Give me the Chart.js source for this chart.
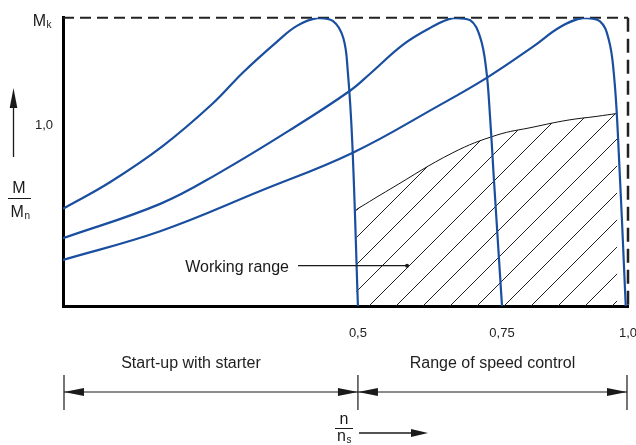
<!DOCTYPE html>
<html>
<head>
<meta charset="utf-8">
<script src="https://cdn.jsdelivr.net/npm/chart.js@4/dist/chart.umd.min.js"></script>
<style>
  html, body { margin: 0; padding: 0; background: #fff; }
  #wrap { width: 636px; height: 445px; }
</style>
</head>
<body>
<div id="wrap"><canvas id="chart" width="636" height="445"></canvas></div>
<script>
// x in n/ns (schematic axis), y in M/Mn
const xTickValues = [0.522, 0.777, 1.0];
const xTickLabels = ["0,5", "0,75", "1,0"];
const yTickValues = [1.0];
const yTickLabels = ["1,0"];
const yMax = 1.6; // Mk level

const curve1 = [
  [0, 0.54], [0.083, 0.687], [0.177, 0.889], [0.265, 1.124], [0.319, 1.298],
  [0.379, 1.468], [0.414, 1.555], [0.45, 1.598], [0.478, 1.582], [0.496, 1.489],
  [0.504, 1.304], [0.512, 0.906], [0.522, 0]
];
const curve2 = [
  [0, 0.376], [0.172, 0.567], [0.278, 0.742], [0.407, 0.987], [0.508, 1.195],
  [0.543, 1.288], [0.602, 1.451], [0.65, 1.544], [0.69, 1.598], [0.72, 1.588],
  [0.738, 1.495], [0.749, 1.315], [0.756, 1.042], [0.763, 0.687], [0.777, 0]
];
const curve3 = [
  [0, 0.256], [0.172, 0.415], [0.349, 0.638], [0.513, 0.851], [0.662, 1.107],
  [0.752, 1.271], [0.832, 1.44], [0.88, 1.549], [0.92, 1.598], [0.95, 1.582],
  [0.966, 1.478], [0.975, 1.288], [0.982, 0.96], [0.996, 0]
];
const workingLimit = [
  [0.519, 0.535], [0.579, 0.649], [0.69, 0.851], [0.768, 0.949],
  [0.832, 0.993], [0.892, 1.031], [0.945, 1.053], [0.981, 1.069]
];
const workingLabelAt = [0.609, 0.224];

const BLUE = "#1a4fa0";
const INK = "#1a1a1a";
const FONT = "'Liberation Sans', Arial, sans-serif";

const toXY = (arr) => arr.map((p) => ({ x: p[0], y: p[1] }));

// diagonal hatch
const makeHatch = () => {
  const s = 27;
  const c = document.createElement("canvas");
  c.width = s;
  c.height = s;
  const g = c.getContext("2d");
  g.strokeStyle = "#222";
  g.lineWidth = 1;
  g.beginPath();
  g.moveTo(-2, s + 2); g.lineTo(s + 2, -2);
  g.moveTo(-2, 2); g.lineTo(2, -2);
  g.moveTo(s - 2, s + 2); g.lineTo(s + 2, s - 2);
  g.stroke();
  return g.createPattern(c, "repeat");
};

const arrowHead = (ctx, x, y, dx, dy, len, hw) => {
  const px = -dy, py = dx;
  ctx.beginPath();
  ctx.moveTo(x, y);
  ctx.lineTo(x - dx * len + px * hw, y - dy * len + py * hw);
  ctx.lineTo(x - dx * len - px * hw, y - dy * len - py * hw);
  ctx.closePath();
  ctx.fill();
};

const subText = (ctx, main, sub, x, y, size, align) => {
  ctx.font = size + "px " + FONT;
  const w1 = ctx.measureText(main).width;
  ctx.font = Math.round(size * 0.62) + "px " + FONT;
  const w2 = ctx.measureText(sub).width;
  let x0 = x;
  if (align === "center") x0 = x - (w1 + w2) / 2;
  if (align === "right") x0 = x - (w1 + w2);
  ctx.textAlign = "left";
  ctx.textBaseline = "alphabetic";
  ctx.font = size + "px " + FONT;
  ctx.fillText(main, x0, y);
  ctx.font = Math.round(size * 0.62) + "px " + FONT;
  ctx.fillText(sub, x0 + w1 + 0.5, y + 2);
};

// dashed top and right edges of the frame
const dashedFrame = {
  id: "dashedFrame",
  beforeDatasetsDraw(chart) {
    const { ctx, chartArea: a } = chart;
    ctx.save();
    ctx.strokeStyle = "#222";
    ctx.lineWidth = 2;
    ctx.setLineDash([11, 6]);
    ctx.beginPath();
    ctx.moveTo(a.left, a.top);
    ctx.lineTo(a.right, a.top);
    ctx.stroke();
    ctx.lineWidth = 2.5;
    ctx.setLineDash([14, 7]);
    ctx.beginPath();
    ctx.moveTo(a.right, a.top);
    ctx.lineTo(a.right, a.bottom);
    ctx.stroke();
    ctx.restore();
  },
};

const annotations = {
  id: "annotations",
  afterDraw(chart) {
    const { ctx, scales } = chart;
    const xs = scales.x, ys = scales.y;
    ctx.save();
    ctx.fillStyle = INK;
    ctx.strokeStyle = INK;

    // Mk at top of y axis
    subText(ctx, "M", "k", 51, ys.getPixelForValue(yMax) + 8, 16, "right");

    // y arrow
    ctx.lineWidth = 1.3;
    ctx.beginPath();
    ctx.moveTo(13.5, 157);
    ctx.lineTo(13.5, 100);
    ctx.stroke();
    arrowHead(ctx, 13.5, 88, 0, -1, 20, 3.8);

    // M / Mn
    ctx.font = "16px " + FONT;
    ctx.textAlign = "center";
    ctx.fillText("M", 19, 193);
    ctx.lineWidth = 1;
    ctx.beginPath();
    ctx.moveTo(8, 198.5);
    ctx.lineTo(31, 198.5);
    ctx.stroke();
    subText(ctx, "M", "n", 20, 217, 16, "center");

    // working range label + leader
    const lx = xs.getPixelForValue(workingLabelAt[0]);
    const ly = ys.getPixelForValue(workingLabelAt[1]);
    ctx.font = "16px " + FONT;
    ctx.textAlign = "right";
    ctx.textBaseline = "middle";
    ctx.fillText("Working range", 289, ly + 2);
    ctx.lineWidth = 1.3;
    ctx.beginPath();
    ctx.moveTo(298, ly);
    ctx.lineTo(lx, ly);
    ctx.stroke();
    ctx.beginPath();
    ctx.arc(lx, ly, 2, 0, Math.PI * 2);
    ctx.fill();

    // dimension lines under the chart
    const x0 = xs.getPixelForValue(0) + 1;
    const x1 = xs.getPixelForValue(xTickValues[0]);
    const x2 = xs.getPixelForValue(xTickValues[2]) - 1;
    const dy = 392;
    ctx.lineWidth = 1.2;
    ctx.beginPath();
    [x0, x1, x2].forEach((x) => { ctx.moveTo(x, 375); ctx.lineTo(x, 410); });
    ctx.moveTo(x0, dy); ctx.lineTo(x2, dy);
    ctx.stroke();
    arrowHead(ctx, x0, dy, -1, 0, 20, 4);
    arrowHead(ctx, x1, dy, 1, 0, 20, 4);
    arrowHead(ctx, x1, dy, -1, 0, 20, 4);
    arrowHead(ctx, x2, dy, 1, 0, 20, 4);

    ctx.font = "16px " + FONT;
    ctx.textAlign = "center";
    ctx.textBaseline = "middle";
    ctx.fillStyle = "#222";
    ctx.fillText("Start-up with starter", (x0 + x1) / 2 - 20, 364);
    ctx.fillText("Range of speed control", (x1 + x2) / 2, 364);

    // n / ns with arrow
    ctx.fillStyle = INK;
    ctx.textBaseline = "alphabetic";
    ctx.fillText("n", 344, 424);
    ctx.lineWidth = 1;
    ctx.beginPath();
    ctx.moveTo(335, 428.5);
    ctx.lineTo(353, 428.5);
    ctx.stroke();
    subText(ctx, "n", "s", 344, 441, 16, "center");
    ctx.lineWidth = 1.3;
    ctx.beginPath();
    ctx.moveTo(359, 433);
    ctx.lineTo(415, 433);
    ctx.stroke();
    arrowHead(ctx, 428, 433, 1, 0, 17, 4);

    ctx.restore();
  },
};

const blueLine = (data) => ({
  data: toXY(data),
  borderColor: BLUE,
  borderWidth: 2.2,
  pointRadius: 0,
  tension: 0.4,
  fill: false,
  order: 1,
});

new Chart(document.getElementById("chart"), {
  type: "line",
  data: {
    datasets: [
      blueLine(curve1),
      blueLine(curve2),
      blueLine(curve3),
      {
        data: toXY(workingLimit),
        borderColor: "#111",
        borderWidth: 1,
        pointRadius: 0,
        tension: 0.4,
        fill: "origin",
        backgroundColor: makeHatch(),
        order: 2,
      },
    ],
  },
  options: {
    responsive: false,
    animation: false,
    layout: { padding: { left: 0, top: 13, right: 8, bottom: 99 } },
    plugins: {
      legend: { display: false },
      tooltip: { enabled: false },
    },
    scales: {
      x: {
        type: "linear",
        position: "bottom",
        min: 0,
        max: 1,
        grid: { display: false, drawTicks: false },
        border: { display: true, color: "#000", width: 3 },
        afterBuildTicks: (axis) => { axis.ticks = xTickValues.map((v) => ({ value: v })); },
        afterFit: (axis) => { axis.height = 40; axis.paddingLeft = 0; axis.paddingRight = 0; },
        ticks: {
          autoSkip: false,
          maxRotation: 0,
          padding: 20,
          color: "#222",
          font: { family: FONT, size: 13 },
          callback: (v, i) => xTickLabels[i],
        },
      },
      y: {
        type: "linear",
        position: "left",
        min: 0,
        max: yMax,
        grid: { display: false, drawTicks: false },
        border: { display: true, color: "#000", width: 3 },
        afterBuildTicks: (axis) => { axis.ticks = yTickValues.map((v) => ({ value: v })); },
        afterFit: (axis) => { axis.width = 63; },
        ticks: {
          padding: 10,
          color: "#222",
          font: { family: FONT, size: 13 },
          callback: (v, i) => yTickLabels[i],
        },
      },
    },
  },
  plugins: [dashedFrame, annotations],
});
</script>
</body>
</html>
